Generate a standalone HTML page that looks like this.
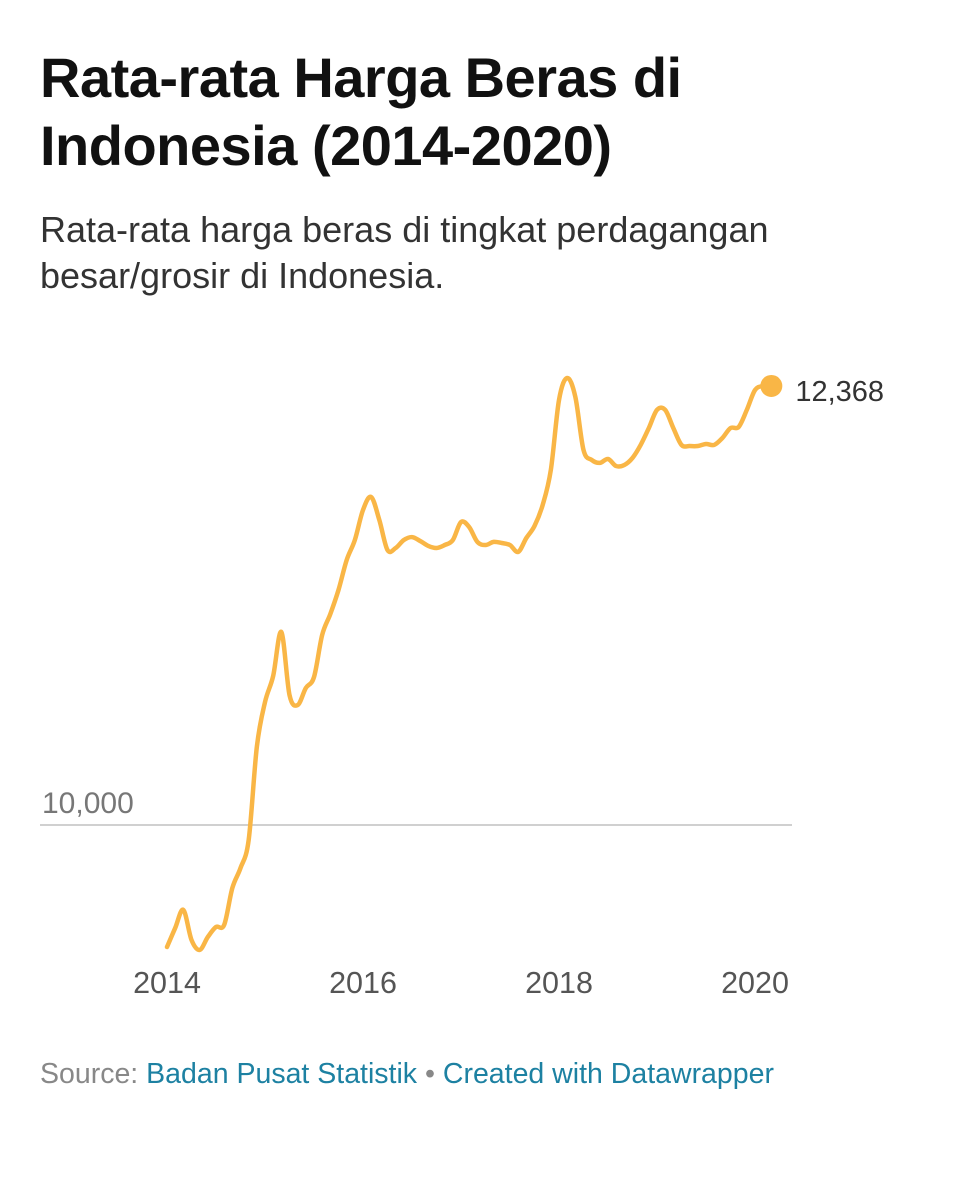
<!DOCTYPE html>
<html><head><meta charset="utf-8"><style>
body{margin:0;background:#fff;width:954px;height:1200px;overflow:hidden;font-family:"Liberation Sans",sans-serif}
h1{position:absolute;left:40px;top:44px;margin:0;font-size:56px;line-height:68px;font-weight:bold;color:#111;letter-spacing:-0.5px;white-space:nowrap}
.sub{position:absolute;left:40px;top:207px;font-size:36px;line-height:46px;color:#333;white-space:nowrap}
.src{position:absolute;left:40px;top:1058px;font-size:28.5px;color:#888;white-space:nowrap}
.src a{color:#1d81a2;text-decoration:none}
svg{position:absolute;left:0;top:0}
</style></head><body>
<h1>Rata-rata Harga Beras di<br>Indonesia (2014-2020)</h1>
<div class="sub">Rata-rata harga beras di tingkat perdagangan<br>besar/grosir di Indonesia.</div>
<svg id="chart" width="954" height="1200"></svg>
<div class="src">Source: <a>Badan Pusat Statistik</a> • <a>Created with Datawrapper</a></div>
<script>
const values=[9342,9444,9542,9380,9326,9396,9450,9461,9660,9768,9919,10421,10663,10804,11041,10701,10647,10739,10798,11025,11138,11268,11429,11537,11699,11769,11645,11483,11494,11537,11553,11532,11505,11494,11510,11537,11634,11607,11527,11510,11527,11521,11510,11473,11548,11613,11726,11915,12292,12411,12309,12023,11969,11953,11974,11936,11942,11980,12050,12141,12239,12239,12141,12050,12044,12044,12055,12050,12087,12141,12147,12239,12346,12368,12368];
const xTicks=[2014,2016,2018,2020];
const yTicks=[10000];
const lastLabel="12,368";
const NS="http://www.w3.org/2000/svg";
const svg=document.getElementById('chart');
const x=m=>167+m*98/12;
const xy=yr=>167+(yr-2014)*98;
const y=v=>825-(v-10000)*0.1854;
function mk(t,a){const e=document.createElementNS(NS,t);for(const k in a)e.setAttribute(k,a[k]);svg.appendChild(e);return e;}
yTicks.forEach(v=>{
 const l=mk('line',{x1:40,x2:792,y1:y(v),y2:y(v),stroke:'#d0d0d0','stroke-width':2});
 
 
 const t=mk('text',{x:42,y:y(v)-12,'font-size':30,fill:'#777','font-family':'Liberation Sans'});
 t.textContent=v.toLocaleString('en-US');
 
 
});
xTicks.forEach(yr=>{
 const t=mk('text',{x:xy(yr),y:993,'font-size':30.5,fill:'#555','text-anchor':'middle','font-family':'Liberation Sans'});
 t.textContent=yr;
 
 
});
const P=values.map((v,i)=>[x(i),y(v)]);
let d='M'+P[0][0]+','+P[0][1];
for(let i=0;i<P.length-1;i++){
 const p0=P[Math.max(0,i-1)],p1=P[i],p2=P[i+1],p3=P[Math.min(P.length-1,i+2)];
 const c1=[p1[0]+(p2[0]-p0[0])/6,p1[1]+(p2[1]-p0[1])/6];
 const c2=[p2[0]-(p3[0]-p1[0])/6,p2[1]-(p3[1]-p1[1])/6];
 d+=`C${c1[0]},${c1[1]} ${c2[0]},${c2[1]} ${p2[0]},${p2[1]}`;
}
const path=mk('path',{d:d,fill:'none',stroke:'#f9b646','stroke-width':4.5,'stroke-linejoin':'round','stroke-linecap':'round'});


const L=P[P.length-1];
const dot=mk('circle',{cx:L[0],cy:L[1],r:11,fill:'#f9b646'});


const lt=mk('text',{x:L[0]+24,y:L[1]+15,'font-size':29,fill:'#333','font-family':'Liberation Sans'});
lt.textContent=lastLabel;


</script>
</body></html>
